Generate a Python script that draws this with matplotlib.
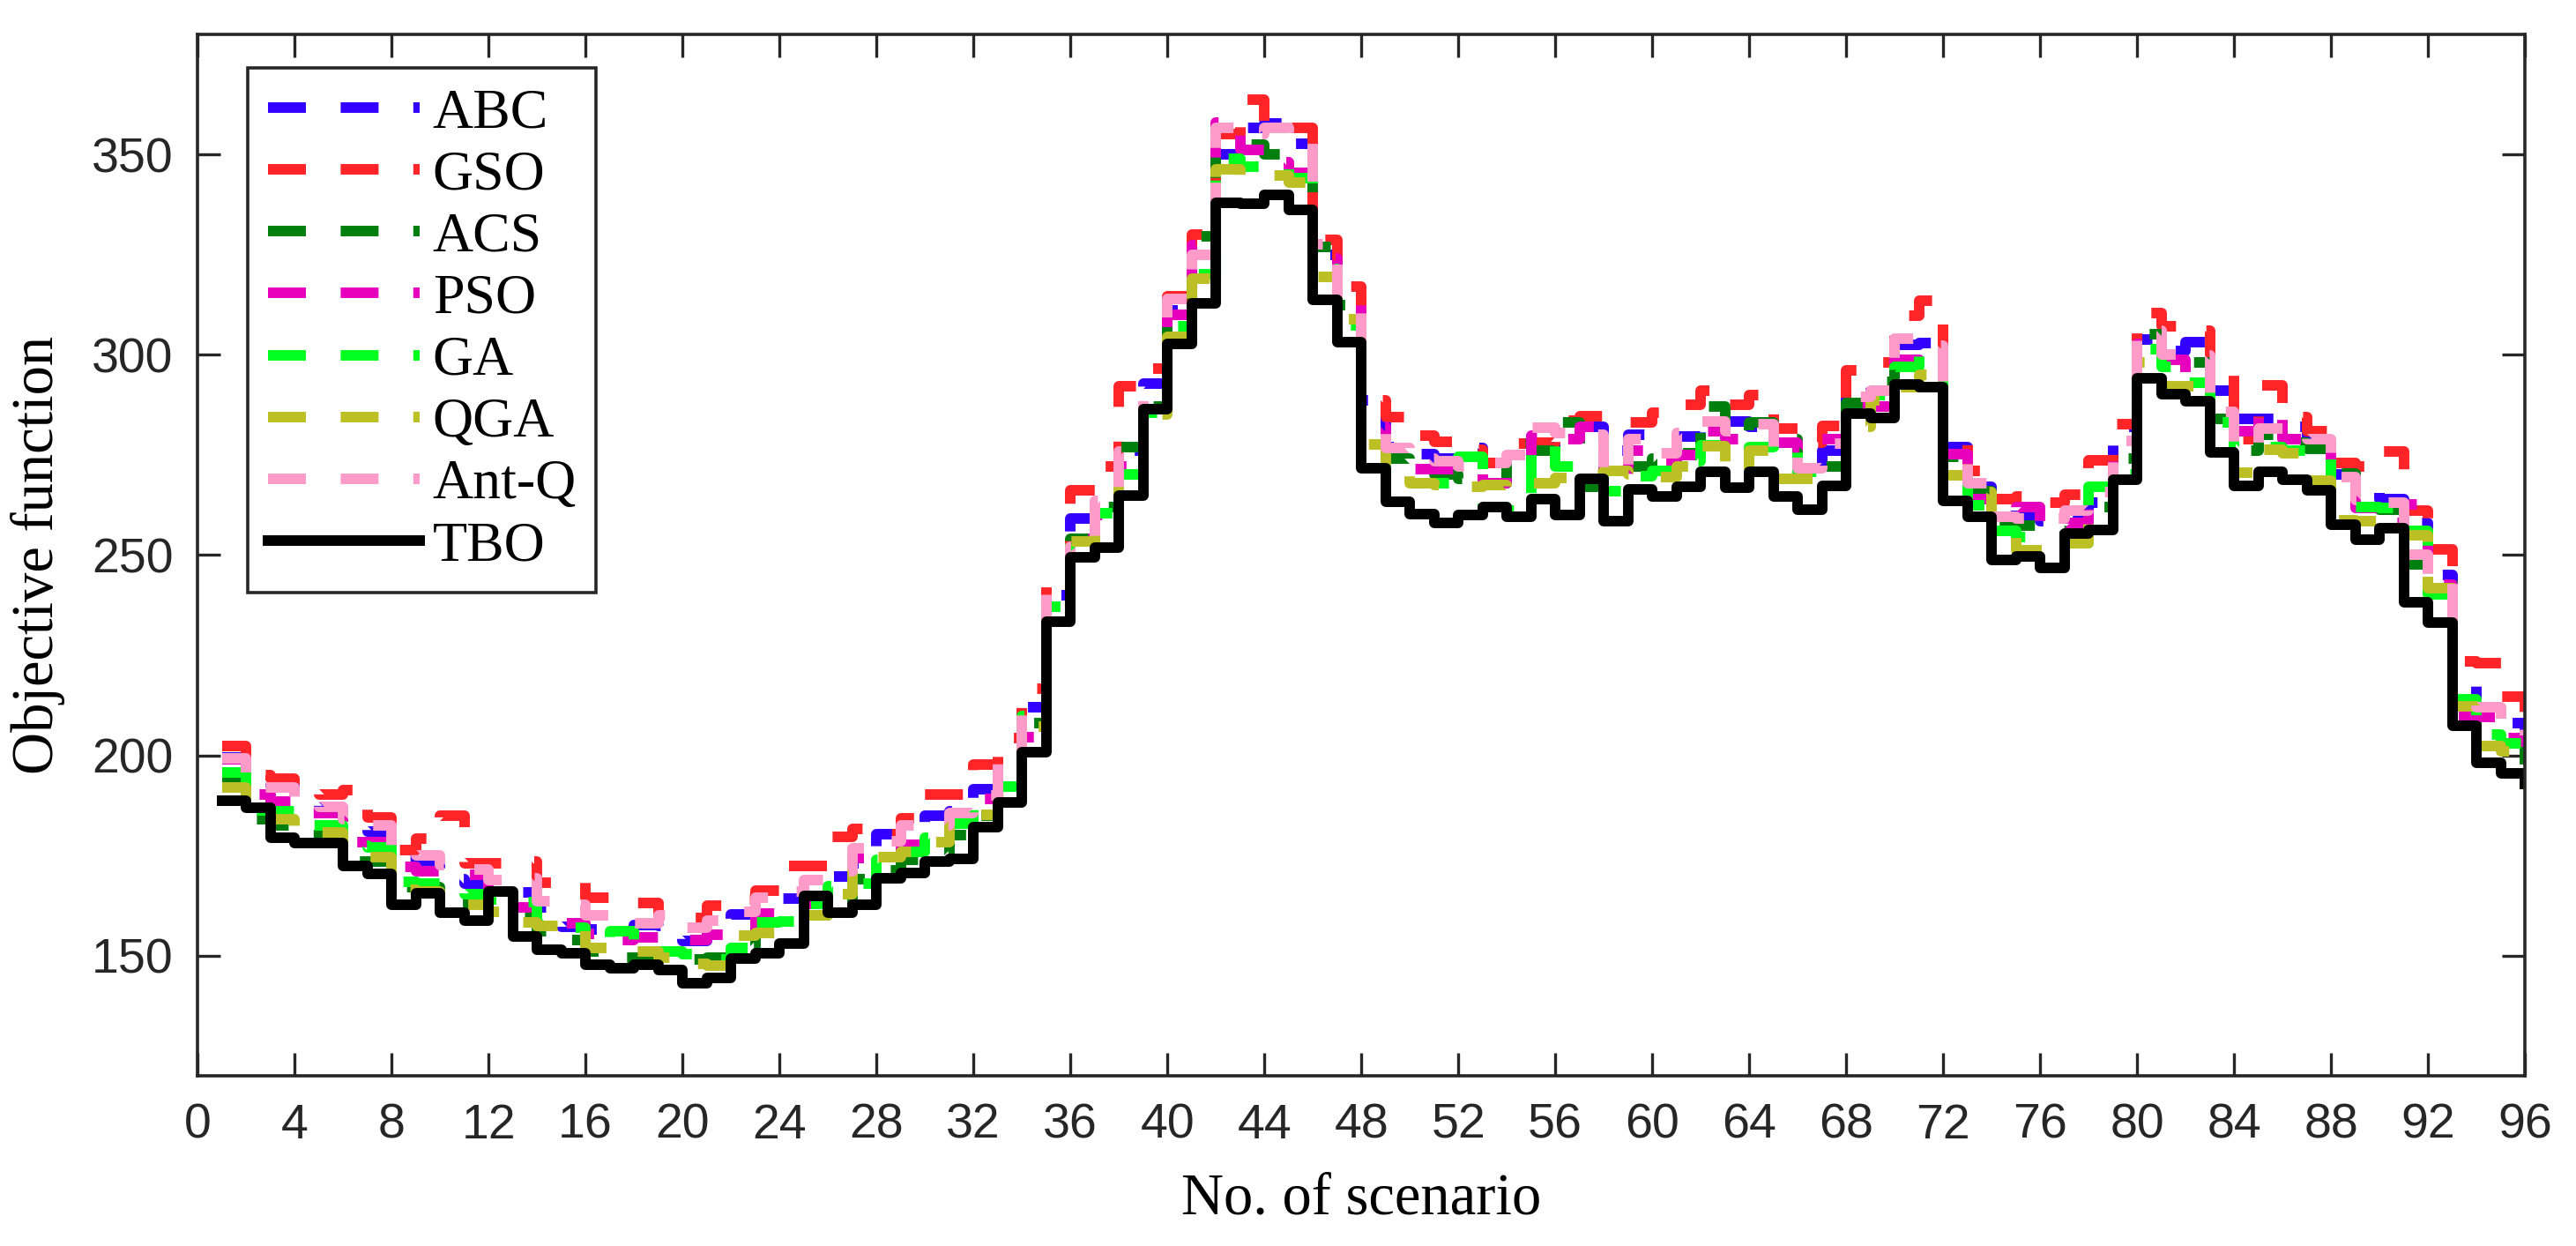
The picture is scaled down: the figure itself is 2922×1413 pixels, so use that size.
import numpy as np
import matplotlib
matplotlib.use("Agg")
import matplotlib.pyplot as plt

# --- data ---
scenario = np.arange(1, 97)

tbo = [188.7, 186.8, 179.5, 178.1, 178.1, 172.3, 170.5, 162.8, 165.6, 160.8,
       158.8, 165.9, 154.8, 151.5, 150.7, 147.7, 146.9, 147.7, 146.3, 143.0,
       144.4, 149.3, 150.5, 153.1, 164.8, 160.8, 162.7, 169.2, 170.7, 173.4,
       174.1, 182.0, 188.2, 200.7, 233.3, 249.5, 251.8, 264.8, 286.3, 302.6,
       312.7, 337.9, 337.7, 339.9, 336.1, 313.7, 303.1, 271.6, 263.2, 260.3,
       258.0, 260.0, 261.9, 259.5, 264.0, 259.9, 268.9, 258.5, 266.3, 264.5,
       267.0, 270.8, 266.9, 270.8, 264.6, 261.3, 267.3, 285.2, 284.3, 292.5,
       292.0, 263.5, 259.5, 248.8, 249.6, 246.8, 255.3, 256.2, 268.8, 294.0,
       290.2, 288.4, 275.7, 267.2, 270.8, 268.8, 266.1, 257.5, 253.8, 256.6,
       238.1, 233.2, 207.4, 198.1, 195.4, 192.8]

gso = [202.3, 195.0, 194.2, 192.0, 190.3, 191.2, 184.4, 176.3, 179.2, 185.0,
       173.1, 173.1, 173.5, 168.3, 168.1, 164.5, 163.2, 163.2, 160.0, 159.4,
       162.5, 164.0, 166.2, 172.3, 172.3, 179.6, 181.6, 180.2, 184.3, 190.1,
       190.1, 197.7, 204.4, 216.7, 246.0, 266.2, 272.0, 292.2, 296.6, 314.5,
       330.0, 355.0, 363.7, 358.0, 356.6, 328.7, 317.0, 288.7, 284.5, 279.9,
       278.3, 276.2, 273.0, 277.9, 278.0, 283.6, 284.6, 283.0, 283.0, 285.5,
       287.4, 291.0, 287.4, 290.0, 281.6, 278.1, 282.2, 296.0, 298.0, 309.8,
       313.5, 280.4, 271.0, 264.0, 264.6, 263.1, 265.0, 273.6, 282.7, 310.4,
       307.0, 306.0, 297.1, 279.0, 292.4, 284.5, 281.0, 273.0, 272.0, 275.9,
       261.0, 251.5, 223.5, 223.0, 214.6, 207.0]

abc = [199.5, 193.0, 192.5, 188.0, 187.0, 181.5, 181.0, 174.0, 173.8, 169.0,
       168.0, 166.0, 165.7, 162.0, 157.3, 156.5, 156.0, 157.7, 157.5, 153.7,
       157.0, 160.2, 161.3, 164.2, 167.7, 169.8, 173.0, 180.4, 182.0, 185.0,
       186.0, 191.6, 196.0, 212.0, 240.0, 259.2, 262.0, 276.0, 292.8, 311.0,
       326.0, 350.0, 356.5, 357.6, 352.6, 325.0, 316.0, 288.7, 277.0, 275.2,
       274.0, 276.7, 273.0, 275.6, 277.0, 281.0, 282.0, 276.0, 280.0, 278.3,
       279.6, 282.0, 283.3, 282.0, 278.0, 271.7, 276.0, 293.8, 291.0, 302.4,
       303.0, 277.0, 267.1, 259.7, 259.7, 258.5, 259.8, 263.0, 282.0, 303.7,
       301.0, 303.2, 291.1, 284.0, 283.9, 282.0, 278.0, 270.0, 267.3, 264.0,
       258.0, 245.0, 218.0, 208.5, 208.0, 205.0]

antq = [199.3, 192.0, 191.9, 188.0, 187.2, 184.0, 182.5, 176.0, 175.0, 172.5,
        171.5, 168.9, 169.4, 163.5, 162.8, 160.1, 158.5, 158.0, 160.0, 157.0,
        158.8, 161.0, 164.5, 166.0, 168.9, 171.0, 176.8, 178.5, 182.4, 182.5,
        185.6, 190.0, 198.2, 212.3, 243.0, 252.0, 263.5, 275.9, 290.0, 313.9,
        324.9, 356.7, 355.0, 356.5, 352.7, 327.6, 314.2, 284.0, 276.7, 274.0,
        273.4, 272.0, 272.9, 275.0, 281.7, 280.5, 280.0, 271.0, 279.0, 275.4,
        280.5, 283.4, 281.0, 282.6, 276.0, 271.7, 277.7, 289.4, 291.0, 304.0,
        302.2, 276.0, 268.0, 259.6, 259.0, 259.1, 261.0, 265.8, 278.4, 306.0,
        300.0, 299.8, 285.8, 276.9, 281.5, 281.5, 279.0, 269.4, 263.7, 263.0,
        250.0, 244.6, 215.4, 212.0, 207.4, 205.0]

pso = [199.0, 190.3, 188.5, 185.5, 185.5, 178.4, 178.4, 172.1, 171.0, 170.5,
       170.1, 163.5, 162.0, 160.4, 158.0, 155.5, 154.0, 154.5, 154.5, 154.0,
       155.3, 157.0, 160.5, 162.0, 163.0, 166.0, 174.3, 175.0, 177.7, 181.0,
       184.3, 189.1, 196.0, 204.5, 241.0, 254.0, 260.0, 272.0, 288.0, 310.0,
       327.3, 358.0, 351.0, 348.0, 345.4, 324.0, 314.0, 282.0, 272.8, 271.5,
       271.5, 270.0, 268.0, 272.0, 279.8, 279.0, 281.9, 267.0, 276.0, 273.1,
       275.0, 281.0, 278.9, 278.9, 278.0, 276.0, 279.0, 287.0, 287.0, 298.8,
       296.0, 275.2, 264.0, 260.0, 262.0, 256.9, 258.0, 264.0, 275.7, 302.6,
       298.7, 295.7, 282.7, 281.0, 285.4, 278.9, 277.6, 266.0, 261.7, 258.0,
       262.7, 242.6, 210.0, 209.5, 204.2, 202.0]

ga = [195.8, 186.2, 186.0, 182.5, 182.5, 177.5, 177.0, 168.5, 168.0, 166.0,
      165.3, 164.0, 163.4, 157.7, 157.0, 151.0, 156.0, 151.0, 151.0, 150.3,
      149.0, 152.0, 158.3, 158.5, 163.0, 167.4, 168.0, 174.0, 176.0, 179.5,
      183.0, 188.9, 192.2, 209.8, 237.0, 253.0, 260.5, 270.0, 285.5, 307.0,
      320.0, 348.8, 347.0, 347.2, 344.0, 321.4, 307.4, 280.1, 271.0, 268.0,
      268.0, 274.5, 262.0, 261.0, 277.4, 272.0, 272.0, 266.0, 269.6, 271.0,
      273.5, 277.3, 276.0, 277.0, 279.0, 270.8, 270.8, 282.5, 290.0, 297.0,
      300.0, 268.6, 262.3, 256.0, 254.5, 254.5, 253.0, 267.0, 270.0, 301.4,
      296.9, 293.0, 283.0, 277.0, 277.0, 276.0, 274.6, 264.4, 262.0, 261.8,
      256.0, 240.2, 214.0, 205.2, 203.0, 199.0]

qga = [192.0, 185.0, 184.1, 181.0, 180.8, 175.0, 174.5, 166.5, 166.0, 163.0,
       162.6, 161.0, 158.4, 157.5, 157.7, 152.0, 151.1, 151.0, 149.5, 148.0,
       147.4, 155.0, 155.6, 157.6, 160.0, 165.4, 172.0, 174.6, 176.0, 178.4,
       184.0, 185.2, 189.2, 207.1, 235.0, 253.4, 258.0, 268.0, 285.0, 304.5,
       319.0, 346.3, 344.7, 344.7, 343.0, 319.4, 308.9, 277.5, 270.2, 268.0,
       267.4, 267.0, 267.4, 266.5, 268.0, 269.3, 270.0, 271.0, 270.0, 269.5,
       272.0, 277.1, 271.0, 276.0, 269.0, 269.0, 270.1, 282.0, 288.5, 292.0,
       294.9, 269.9, 265.7, 255.0, 251.1, 251.1, 253.0, 258.7, 272.3, 298.0,
       292.2, 292.2, 279.0, 270.6, 276.2, 275.4, 268.5, 258.6, 258.4, 257.0,
       255.0, 241.7, 212.3, 202.3, 201.0, 191.5]

acs = [193.5, 184.0, 182.5, 180.0, 180.0, 173.5, 173.5, 167.0, 167.0, 163.0,
       163.0, 161.0, 160.2, 156.0, 154.0, 151.0, 149.6, 149.5, 148.5, 149.0,
       149.5, 152.4, 157.6, 157.0, 160.0, 164.0, 169.0, 171.3, 174.0, 175.0,
       180.0, 185.0, 190.2, 208.0, 236.0, 254.0, 262.0, 277.0, 287.0, 312.0,
       329.5, 352.9, 352.5, 350.0, 350.2, 327.0, 312.3, 281.0, 274.0, 272.0,
       270.2, 269.0, 268.0, 277.7, 276.0, 283.0, 267.0, 270.0, 272.0, 274.0,
       275.4, 287.0, 280.0, 283.0, 279.0, 270.0, 272.0, 288.0, 293.3, 297.2,
       297.9, 274.5, 266.0, 258.0, 257.3, 256.0, 255.0, 262.0, 274.0, 305.0,
       298.0, 298.0, 284.0, 276.0, 280.0, 278.0, 276.5, 270.3, 265.0, 261.4,
       247.7, 245.0, 209.0, 203.5, 203.0, 197.0]

names = ["ABC", "GSO", "ACS", "PSO", "GA", "QGA", "Ant-Q", "TBO"]
values = [abc, gso, acs, pso, ga, qga, antq, tbo]
colors = ["#3300FF", "#FF2428", "#007F0E", "#E600BE", "#00FF1E", "#BDC024", "#FF9BC9", "#000000"]

# --- figure ---
plt.rcParams['font.family'] = ['Liberation Sans', 'DejaVu Sans']
fig = plt.figure(figsize=(14.61, 7.065), dpi=200)
ax = fig.add_axes([0.0767, 0.1366, 0.9035, 0.836])

lw = 4.3
for name, y, c in zip(names, values, colors):
    ls = '-' if name == "TBO" else (0, (3.6, 3.3))
    ax.step(scenario, y, where='post', color=c, lw=lw, linestyle=ls, label=name)

ax.set_xlim(0, 96)
ax.set_ylim(120, 380)
ax.set_xticks(np.arange(0, 97, 4))
ax.set_yticks([150, 200, 250, 300, 350])

for sp in ax.spines.values():
    sp.set_linewidth(1.3)
    sp.set_color('#262626')
ax.tick_params(direction='in', top=True, right=True, length=9.4, width=1.2,
               colors='#262626', labelsize=20)
ax.tick_params(axis='x', pad=11)
ax.tick_params(axis='y', pad=10)

serif = ['Liberation Serif', 'DejaVu Serif']
ax.set_xlabel("No. of scenario", fontsize=24, family=serif)
ax.set_ylabel("Objective function", fontsize=24, family=serif)
ax.xaxis.set_label_coords(0.5, -0.093)
ax.yaxis.set_label_coords(-0.057, 0.5)

leg = ax.legend(loc='upper left', bbox_to_anchor=(0.0216, 0.9676), borderaxespad=0,
                prop={'family': serif, 'size': 23}, fancybox=False, framealpha=1,
                edgecolor='#262626', handlelength=2.7, handletextpad=0.23,
                labelspacing=0.18, borderpad=0.35)
leg.get_frame().set_linewidth(1.3)

fig.savefig("out.png", dpi=200)
